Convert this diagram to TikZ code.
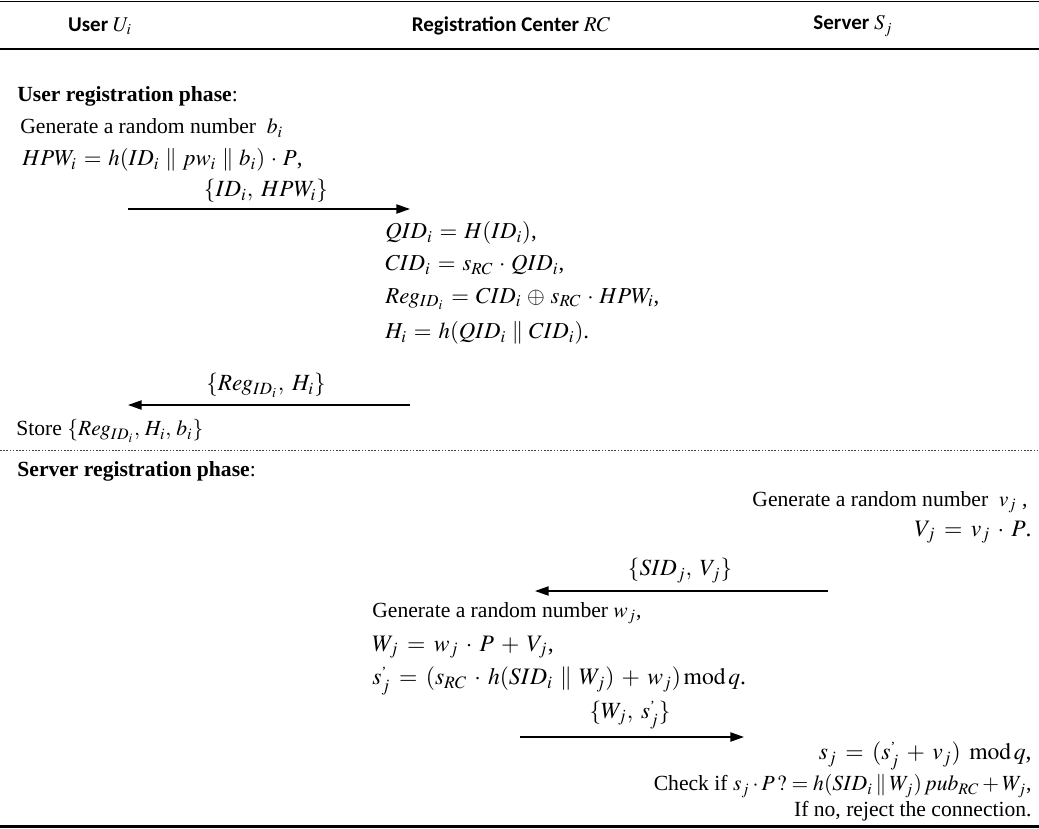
\documentclass[tikz,border=0pt]{standalone}
\usepackage{mathptmx}
\usepackage[no-math]{fontspec}
\setmainfont{Liberation Serif}
\newfontfamily\headfont{Carlito}
\usetikzlibrary{arrows.meta}
\newcommand{\cat}{\mathbin{\|}}
\newcommand{\spj}{s^{\raisebox{-0.55ex}{\scriptsize '}}_j}
\newcommand{\wideops}{\medmuskip=5.5mu plus 2mu\thickmuskip=6.5mu plus 3mu}
\newcommand{\midops}{\medmuskip=4.5mu plus 2mu\thickmuskip=5.5mu plus 3mu}

\begin{document}
\begin{tikzpicture}[
    x=0.5pt, y=-0.5pt,
    txt/.style={font=\fontsize{10.8}{13}\selectfont, inner sep=0pt},
    lft/.style={txt, anchor=west},
    rgt/.style={txt, anchor=east},
    mth/.style={lft, font=\fontsize{11.4}{14}\selectfont\midops},
    wmth/.style={font=\fontsize{11.8}{14}\selectfont\wideops},
    lbl/.style={txt, anchor=south, font=\fontsize{11.6}{14}\selectfont},
    head/.style={font=\headfont\bfseries\fontsize{10.5}{13}\selectfont, inner sep=0pt},
    msg/.style={line width=0.7pt, -{Triangle[length=6.8pt,width=4.6pt]}},
    sepline/.style={line width=0.5pt, black!75, dash pattern=on 0.8pt off 0.8pt},
  ]
  \useasboundingbox (0,0) rectangle (1039,829);

  % ---- header row
  \draw[line width=0.9pt] (0,1.5) -- (1039,1.5);
  \node[head] (hdUser)   at (100,26) {User $U_i$};
  \node[head] (hdRC)     at (511,26) {Registration Center $RC$};
  \node[head] (hdServer) at (853,26) {Server $S_j$};
  \draw[line width=1.3pt] (0,49) -- (1039,49);

  % ---- user registration phase
  \node[lft] (phUser) at (17,96) {\textbf{User registration phase}:};
  \node[lft] (genB) at (20,128) {Generate a random number \ $b_i$};
  \node[mth] (hpw)  at (22,160) {$HPW_i = h(ID_i \cat pw_i \cat b_i)\cdot P$,};
  \coordinate (a1s) at (128,209);
  \coordinate (a1e) at (410,209);
  \draw[msg] (a1s) -- (a1e);
  \node[lbl] (m1) at (266,203) {$\{ID_i,\; HPW_i\}$};
  \node[mth] (qid) at (385,233) {$QID_i = H(ID_i)$,};
  \node[mth] (cid) at (385,265) {$CID_i = s_{RC}\cdot QID_i$,};
  \node[mth] (reg) at (385,299) {$Reg_{ID_i} = CID_i \oplus s_{RC}\cdot HPW_i$,};
  \node[mth] (hi)  at (385,333) {$H_i = h(QID_i \cat CID_i)$.};
  \coordinate (a2s) at (410,405);
  \coordinate (a2e) at (128,405);
  \draw[msg] (a2s) -- (a2e);
  \node[lbl] (m2) at (266,398) {$\{Reg_{ID_i},\; H_i\}$};
  \node[lft] (store) at (16,431) {Store $\{Reg_{ID_i},\, H_i,\, b_i\}$};

  \draw[sepline] (0,450) -- (1039,450);

  % ---- server registration phase
  \node[lft] (phServer) at (17,471) {\textbf{Server registration phase}:};
  \node[rgt] (genV) at (1028,502) {Generate a random number \ $v_j$ ,};
  \node[rgt, wmth] (vj) at (1032,532) {$V_j = v_j\cdot P$.};
  \coordinate (a3s) at (828,591);
  \coordinate (a3e) at (535,591);
  \draw[msg] (a3s) -- (a3e);
  \node[lbl] (m3) at (680,583) {$\{SID_j,\; V_j\}$};
  \node[lft] (genW) at (372,613) {Generate a random number $w_j$,};
  \node[lft, wmth] (wj)  at (372,647) {$W_j = w_j\cdot P + V_j$,};
  \node[lft, wmth] (sjp) at (372,681) {$\spj = (s_{RC}\cdot h(SID_i \cat W_j) + w_j)\,\mathrm{mod}\,q$.};
  \coordinate (a4s) at (520,737);
  \coordinate (a4e) at (744,737);
  \draw[msg] (a4s) -- (a4e);
  \node[lbl] (m4) at (630,729) {$\{W_j,\; \spj\}$};
  \node[rgt, wmth] (sj) at (1032,756) {$s_j = (\spj + v_j)\;\mathrm{mod}\,q$,};
  \node[rgt] (check) at (1032,786) {Check if $s_j\cdot P\,? = h(SID_i \cat W_j)\,pub_{RC} + W_j$,};
  \node[rgt] (rej)   at (1032,811) {If no, reject the connection.};

  \draw[line width=1.5pt] (0,826) -- (1039,826);
\end{tikzpicture}
\end{document}
